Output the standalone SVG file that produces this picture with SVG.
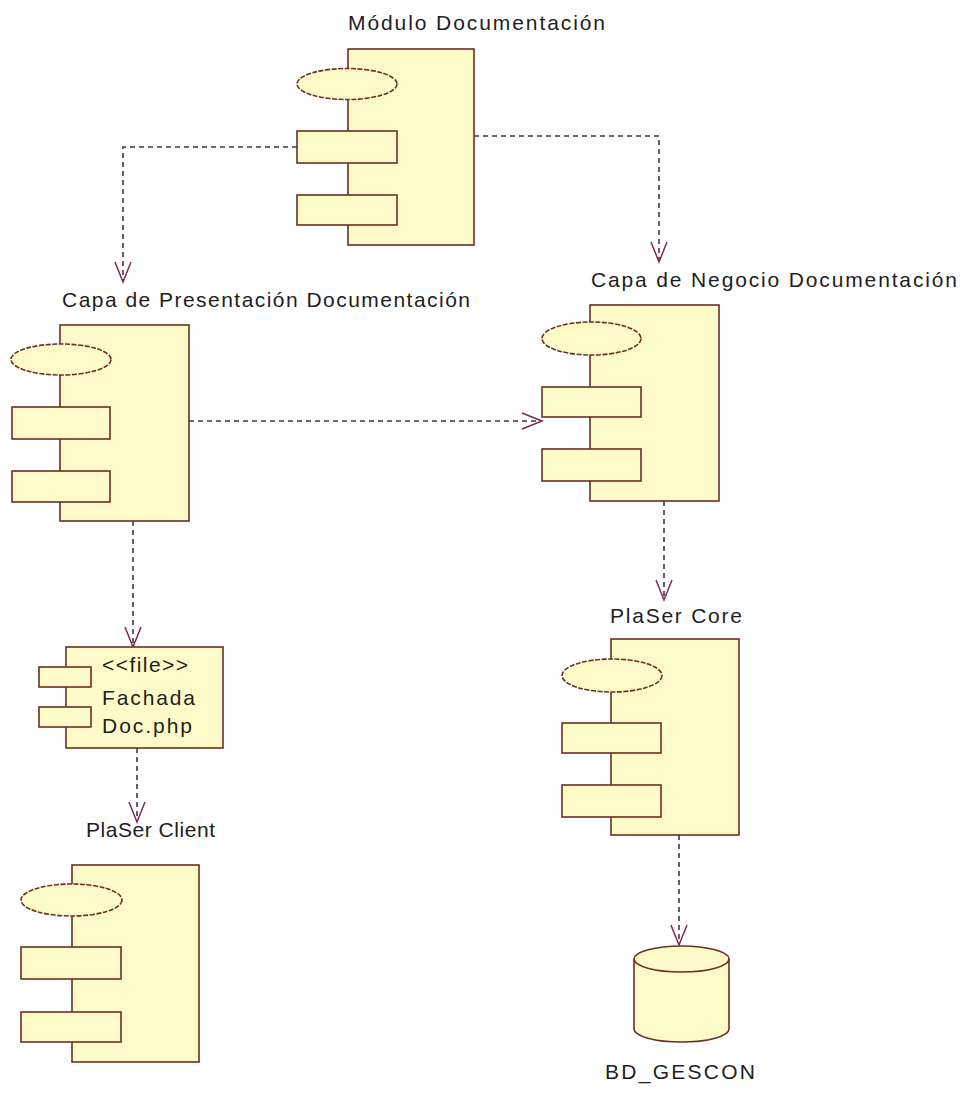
<svg xmlns="http://www.w3.org/2000/svg" width="967" height="1096" viewBox="0 0 967 1096">
<defs>
<style>
.b{fill:#fffbc8;stroke:#6e2e24;stroke-width:1.6}
.e{fill:#fffbc8;stroke:#6e2e24;stroke-width:1.6;stroke-dasharray:5 1.5}
.t{font-family:"Liberation Sans",Arial,sans-serif;font-size:21px;fill:#1e1e1e}
.c{fill:none;stroke:#4a3040;stroke-width:1.6;stroke-dasharray:5 4}
.h{fill:none;stroke:#7a2a55;stroke-width:1.5}
</style>
</defs>
<rect width="967" height="1096" fill="#ffffff"/>

<g id="connectors">
<polyline class="c" points="297,147 123,147 123,280"/>
<polyline class="h" points="115,262 123,282 131,262"/>
<polyline class="c" points="474,136 659,136 659,260"/>
<polyline class="h" points="651,242 659,262 667,242"/>
<line class="c" x1="189" y1="421" x2="540" y2="421"/>
<polyline class="h" points="522,413 542,421 522,429"/>
<line class="c" x1="133" y1="521" x2="133" y2="645"/>
<polyline class="h" points="125,627 133,647 141,627"/>
<line class="c" x1="137" y1="748" x2="137" y2="820"/>
<polyline class="h" points="129,802 137,822 145,802"/>
<line class="c" x1="664" y1="501" x2="664" y2="598"/>
<polyline class="h" points="656,580 664,600 672,580"/>
<line class="c" x1="679" y1="835" x2="679" y2="943"/>
<polyline class="h" points="671,925 679,945 687,925"/>
</g>

<g id="modulo">
<text class="t" x="348" y="30" textLength="257" lengthAdjust="spacing">Módulo Documentación</text>
<rect class="b" x="348" y="49" width="126" height="196"/>
<ellipse class="e" cx="347" cy="84" rx="50" ry="15.5"/>
<rect class="b" x="297" y="131" width="100" height="32"/>
<rect class="b" x="297" y="195" width="100" height="30"/>
</g>

<g id="presentacion">
<text class="t" x="62" y="307" textLength="408" lengthAdjust="spacing">Capa de Presentación Documentación</text>
<rect class="b" x="60" y="325" width="129" height="196"/>
<ellipse class="e" cx="61" cy="359.5" rx="50" ry="15.5"/>
<rect class="b" x="12" y="407" width="98" height="32"/>
<rect class="b" x="12" y="471" width="98" height="31"/>
</g>

<g id="negocio">
<text class="t" x="591" y="287" textLength="366" lengthAdjust="spacing">Capa de Negocio Documentación</text>
<rect class="b" x="590" y="305" width="129" height="196"/>
<ellipse class="e" cx="591.5" cy="338.5" rx="49.5" ry="16.5"/>
<rect class="b" x="542" y="387" width="99" height="30"/>
<rect class="b" x="542" y="449" width="99" height="32"/>
</g>

<g id="fachada">
<rect class="b" x="66" y="647" width="157" height="101"/>
<rect class="b" x="39" y="667" width="52" height="20"/>
<rect class="b" x="39" y="707" width="52" height="20"/>
<text class="t" x="102" y="672" textLength="86" lengthAdjust="spacing">&lt;&lt;file&gt;&gt;</text>
<text class="t" x="102" y="705" textLength="93" lengthAdjust="spacing">Fachada</text>
<text class="t" x="102" y="733" textLength="90" lengthAdjust="spacing">Doc.php</text>
</g>

<g id="client">
<text class="t" x="86" y="837" textLength="129" lengthAdjust="spacing">PlaSer Client</text>
<rect class="b" x="72" y="865" width="127" height="197"/>
<ellipse class="e" cx="71.5" cy="900" rx="50.5" ry="16"/>
<rect class="b" x="21" y="947" width="100" height="32"/>
<rect class="b" x="21" y="1012" width="100" height="30"/>
</g>

<g id="core">
<text class="t" x="610" y="623" textLength="132" lengthAdjust="spacing">PlaSer Core</text>
<rect class="b" x="611" y="639" width="128" height="196"/>
<ellipse class="e" cx="612" cy="675.5" rx="50" ry="16.5"/>
<rect class="b" x="562" y="723" width="99" height="30"/>
<rect class="b" x="562" y="785" width="99" height="32"/>
</g>

<g id="bd">
<path class="b" d="M634,959 L634,1029 A47.5,13 0 0 0 729,1029 L729,959"/>
<ellipse class="b" cx="681.5" cy="959" rx="47.5" ry="13"/>
<text class="t" x="605" y="1079" textLength="150" lengthAdjust="spacing">BD_GESCON</text>
</g>
</svg>
